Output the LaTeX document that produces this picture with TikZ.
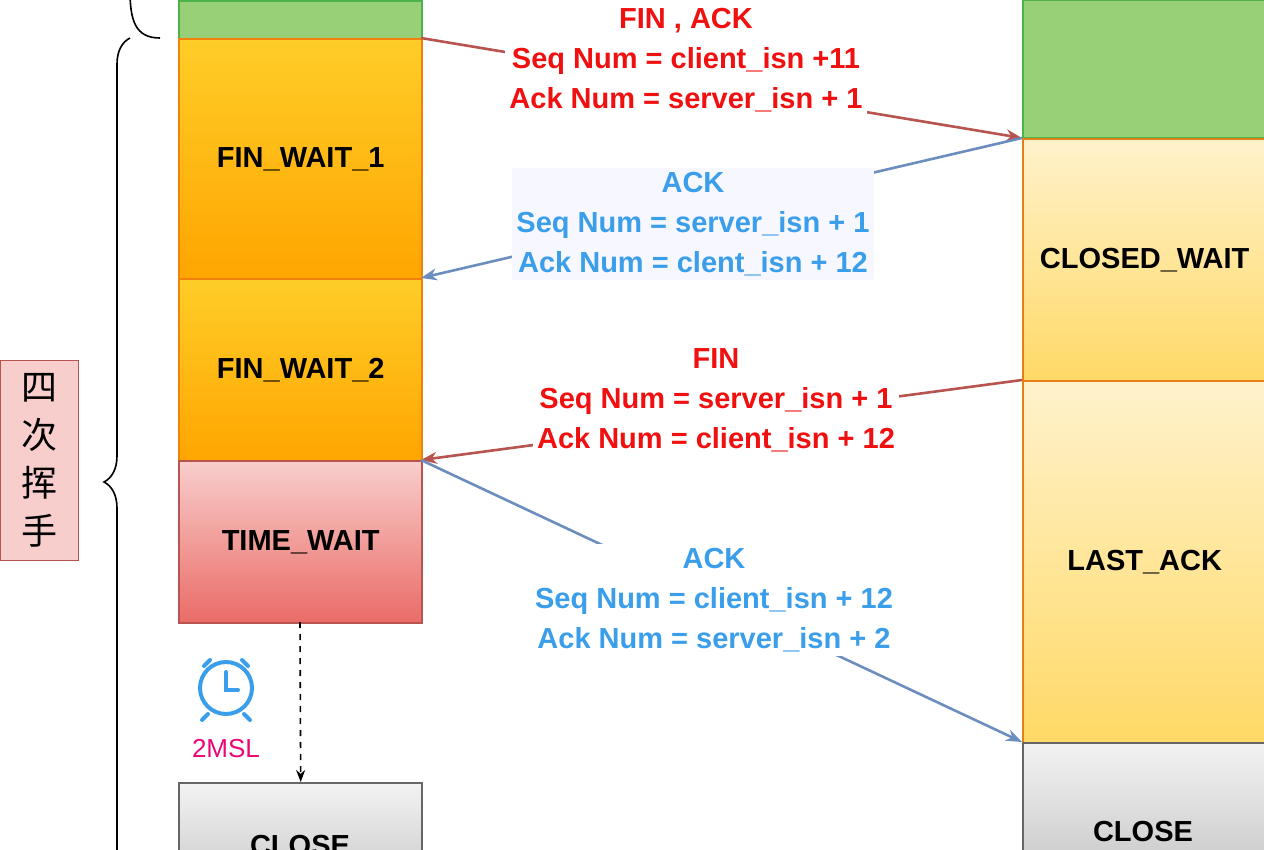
\documentclass[tikz,border=0pt]{standalone}
\usepackage{fontspec}
\setmainfont{Liberation Sans}
\newfontfamily\cjkf{Noto Sans CJK SC}
\usetikzlibrary{decorations.pathreplacing,arrows.meta}
\definecolor{ared}{HTML}{B85450}
\definecolor{ablue}{HTML}{6C8EBF}
\definecolor{tred}{HTML}{F01010}
\definecolor{tblue}{HTML}{3A9EEA}
\definecolor{grn}{HTML}{97D077}
\definecolor{or1}{HTML}{FFCD28}
\definecolor{or2}{HTML}{FFA500}
\definecolor{ye1}{HTML}{FFF2CC}
\definecolor{ye2}{HTML}{FFD966}
\definecolor{rd1}{HTML}{F8CECC}
\definecolor{rd2}{HTML}{EA6B66}
\begin{document}
\begin{tikzpicture}[x=0.5pt,y=-0.5pt,
  st/.style={draw=#1,line width=1.2pt,minimum width=121.5pt,anchor=north west,inner sep=0,font=\bfseries\fontsize{14.5}{16}\selectfont},
  lbl/.style={font=\bfseries\fontsize{14.5}{20}\selectfont,align=center,inner sep=2pt},
  arr/.style={line width=1.3pt,-{Stealth[length=8pt,width=6pt]}}]
\useasboundingbox (0,0) rectangle (1264,850);
\begin{scope}
\clip (0,0) rectangle (1264,850);
% left column
\node[st=gray!60!green,fill=grn,minimum height=19pt] (lg) at (178,0) {};
\node[st=orange!80!brown,top color=or1,bottom color=or2,minimum height=120pt] (fw1) at (178,38) {FIN\_WAIT\_1};
\node[st=orange!80!brown,top color=or1,bottom color=or2,minimum height=91pt] (fw2) at (178,278) {FIN\_WAIT\_2};
\node[st=ared,top color=rd1,bottom color=rd2,minimum height=81pt] (tw) at (178,460) {TIME\_WAIT};
\node[st=gray!80!black,top color=gray!10,bottom color=gray!40,minimum height=50pt] (lc) at (178,782) {};
\node[font=\bfseries\fontsize{14.5}{16}\selectfont] at (300,846) {CLOSE};
% right column
\node[st=gray!60!green,fill=grn,minimum height=69pt] (rg) at (1022,-1) {};
\node[st=orange!60!brown,top color=ye1,bottom color=ye2,minimum height=121pt] (cw) at (1022,138) {CLOSED\_WAIT};
\node[st=orange!60!brown,top color=ye1,bottom color=ye2,minimum height=181pt] (la) at (1022,380) {LAST\_ACK};
\node[st=gray!80!black,top color=gray!10,bottom color=gray!40,minimum height=60pt] (rc) at (1022,742) {};
\node[font=\bfseries\fontsize{14.5}{16}\selectfont] at (1143,832) {CLOSE};
% coordinates
\coordinate (a1) at (421,38); \coordinate (b1) at (1022,138);
\coordinate (a2) at (421,278);
\coordinate (b3) at (1022,380); \coordinate (a3) at (421,460);
\coordinate (b4) at (1022,742);
% arrows
\draw[arr,ared] (a1) -- (b1);
\draw[arr,ablue] (b1) -- (a2);
\draw[arr,ared] (b3) -- (a3);
\draw[arr,ablue] (a3) -- (b4);
% labels
\node[lbl,text=tred,fill=white] at (686,60) {FIN , ACK\\Seq Num = client\_isn +11\\Ack Num = server\_isn + 1};
\node[lbl,text=tblue,fill=blue!3] at (693,224) {ACK\\Seq Num = server\_isn + 1\\Ack Num = clent\_isn + 12};
\node[lbl,text=tred,fill=white] at (716,400) {FIN\\Seq Num = server\_isn + 1\\Ack Num = client\_isn + 12};
\node[lbl,text=tblue,fill=white] at (714,600) {ACK\\Seq Num = client\_isn + 12\\Ack Num = server\_isn + 2};
% dashed
\draw[dashed,line width=0.8pt,-{Stealth[length=6pt]}] (300,622) -- (lc.north);
% clock
\begin{scope}[shift={(226,688)}]
\draw[tblue,line width=2pt] (0,0) circle (13pt);
\draw[tblue,line width=2pt,line cap=round] (0,-16) -- (0,2) -- (12,2);
\draw[tblue,line width=2pt,line cap=round] (-22,-22) -- (-16,-28);
\draw[tblue,line width=2pt,line cap=round] (22,-22) -- (16,-28);
\draw[tblue,line width=2pt,line cap=round] (-18,26) -- (-24,32);
\draw[tblue,line width=2pt,line cap=round] (18,26) -- (24,32);
\end{scope}
\node[text=magenta!80!red,font=\fontsize{13}{15}\selectfont] at (226,749) {2MSL};
% braces
\draw[line width=0.8pt] (130,-10) .. controls (130,20) and (135,38) .. (160,38);
\draw[decorate,decoration={brace,amplitude=13pt},line width=0.8pt] (130,926) -- (130,38);
\node[draw=ared,fill=rd1,minimum width=39pt,minimum height=100pt,inner sep=0,font=\cjkf\fontsize{18}{24}\selectfont,align=center] (sh) at (39,460) {四\\次\\挥\\手};
\end{scope}
\end{tikzpicture}
\end{document}
